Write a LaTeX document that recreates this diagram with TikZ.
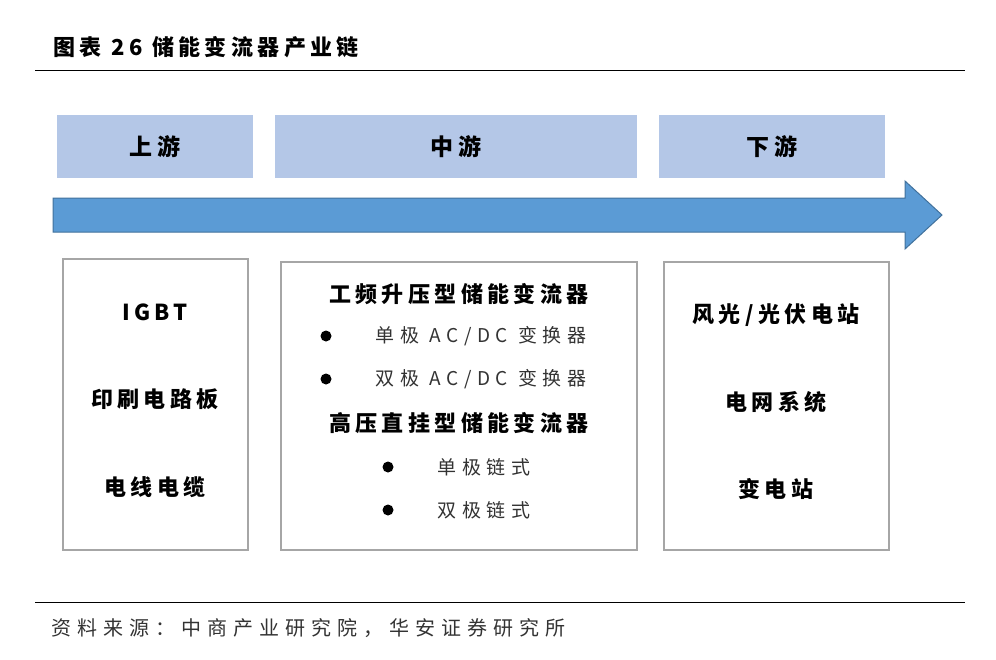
\documentclass[tikz,border=0pt]{standalone}
\usepackage{fontspec}
\newfontfamily\cjk[LetterSpace=20]{Noto Sans CJK SC}
\newfontfamily\cjkw[LetterSpace=30]{Noto Sans CJK SC}
\usepackage{tikz}
\definecolor{headblue}{HTML}{B4C7E7}
\definecolor{arrowblue}{HTML}{5B9BD5}
\definecolor{arrowedge}{HTML}{41719C}

\begin{document}
\begin{tikzpicture}[x=1pt,y=-1pt,
	head/.style={fill=headblue,draw=none,minimum height=63pt,font=\cjk\bfseries\fontsize{23}{26}\selectfont},
	box/.style={draw=black!35,line width=1.2pt},
	big/.style={font=\cjk\bfseries\fontsize{22}{26}\selectfont},
	small/.style={font=\cjkw\fontsize{19}{22}\selectfont,anchor=west,text=black!80},
	dot/.style={fill=black,circle,inner sep=0pt,minimum size=11pt}]
	\useasboundingbox (0,0) rectangle (996,659);
	\node[anchor=west,font=\cjk\bfseries\fontsize{22}{26}\selectfont] (title) at (50,47) {图表 26 储能变流器产业链};
	\draw[line width=1pt] (35,70) -- (965,70);
	
	\node[head,minimum width=196pt] (up) at (155,146.5) {上游};
	\node[head,minimum width=362pt] (mid) at (456,146.5) {中游};
	\node[head,minimum width=226pt] (down) at (772,146.5) {下游};
	
	\draw[fill=arrowblue,draw=arrowedge,line width=1pt] (53,198) -- (905,198) -- (905,181) -- (942,215) -- (905,249) -- (905,232) -- (53,232) -- cycle;
	
	\draw[box] (63,259) rectangle (248,550);
	\draw[box] (281,262) rectangle (637,550);
	\draw[box] (664,262) rectangle (889,550);
	
	\node[big] (igbt) at (155,312) {IGBT};
	\node[big] (pcb) at (155,399) {印刷电路板};
	\node[big] (cable) at (155,487) {电线电缆};
	
	\node[big] (gp) at (459,294) {工频升压型储能变流器};
	\node[dot] (b1) at (326,336) {};
	\node[small] (t1) at (372,336) {单极 AC/DC 变换器};
	\node[dot] (b2) at (326,379) {};
	\node[small] (t2) at (372,379) {双极 AC/DC 变换器};
	\node[big] (gy) at (459,423) {高压直挂型储能变流器};
	\node[dot] (b3) at (388,467) {};
	\node[small] (t3) at (434,467) {单极链式};
	\node[dot] (b4) at (388,510) {};
	\node[small] (t4) at (434,510) {双极链式};
	
	\node[big] (pv) at (776,315) {风光/光伏电站};
	\node[big] (grid) at (776,402) {电网系统};
	\node[big] (sub) at (776,489) {变电站};
	
	\draw[line width=1pt] (35,602) -- (965,602);
	\node[anchor=west,font=\cjkw\fontsize{20}{24}\selectfont,text=black!80] (src) at (48,628) {资料来源：中商产业研究院，华安证券研究所};
\end{tikzpicture}
\end{document}
